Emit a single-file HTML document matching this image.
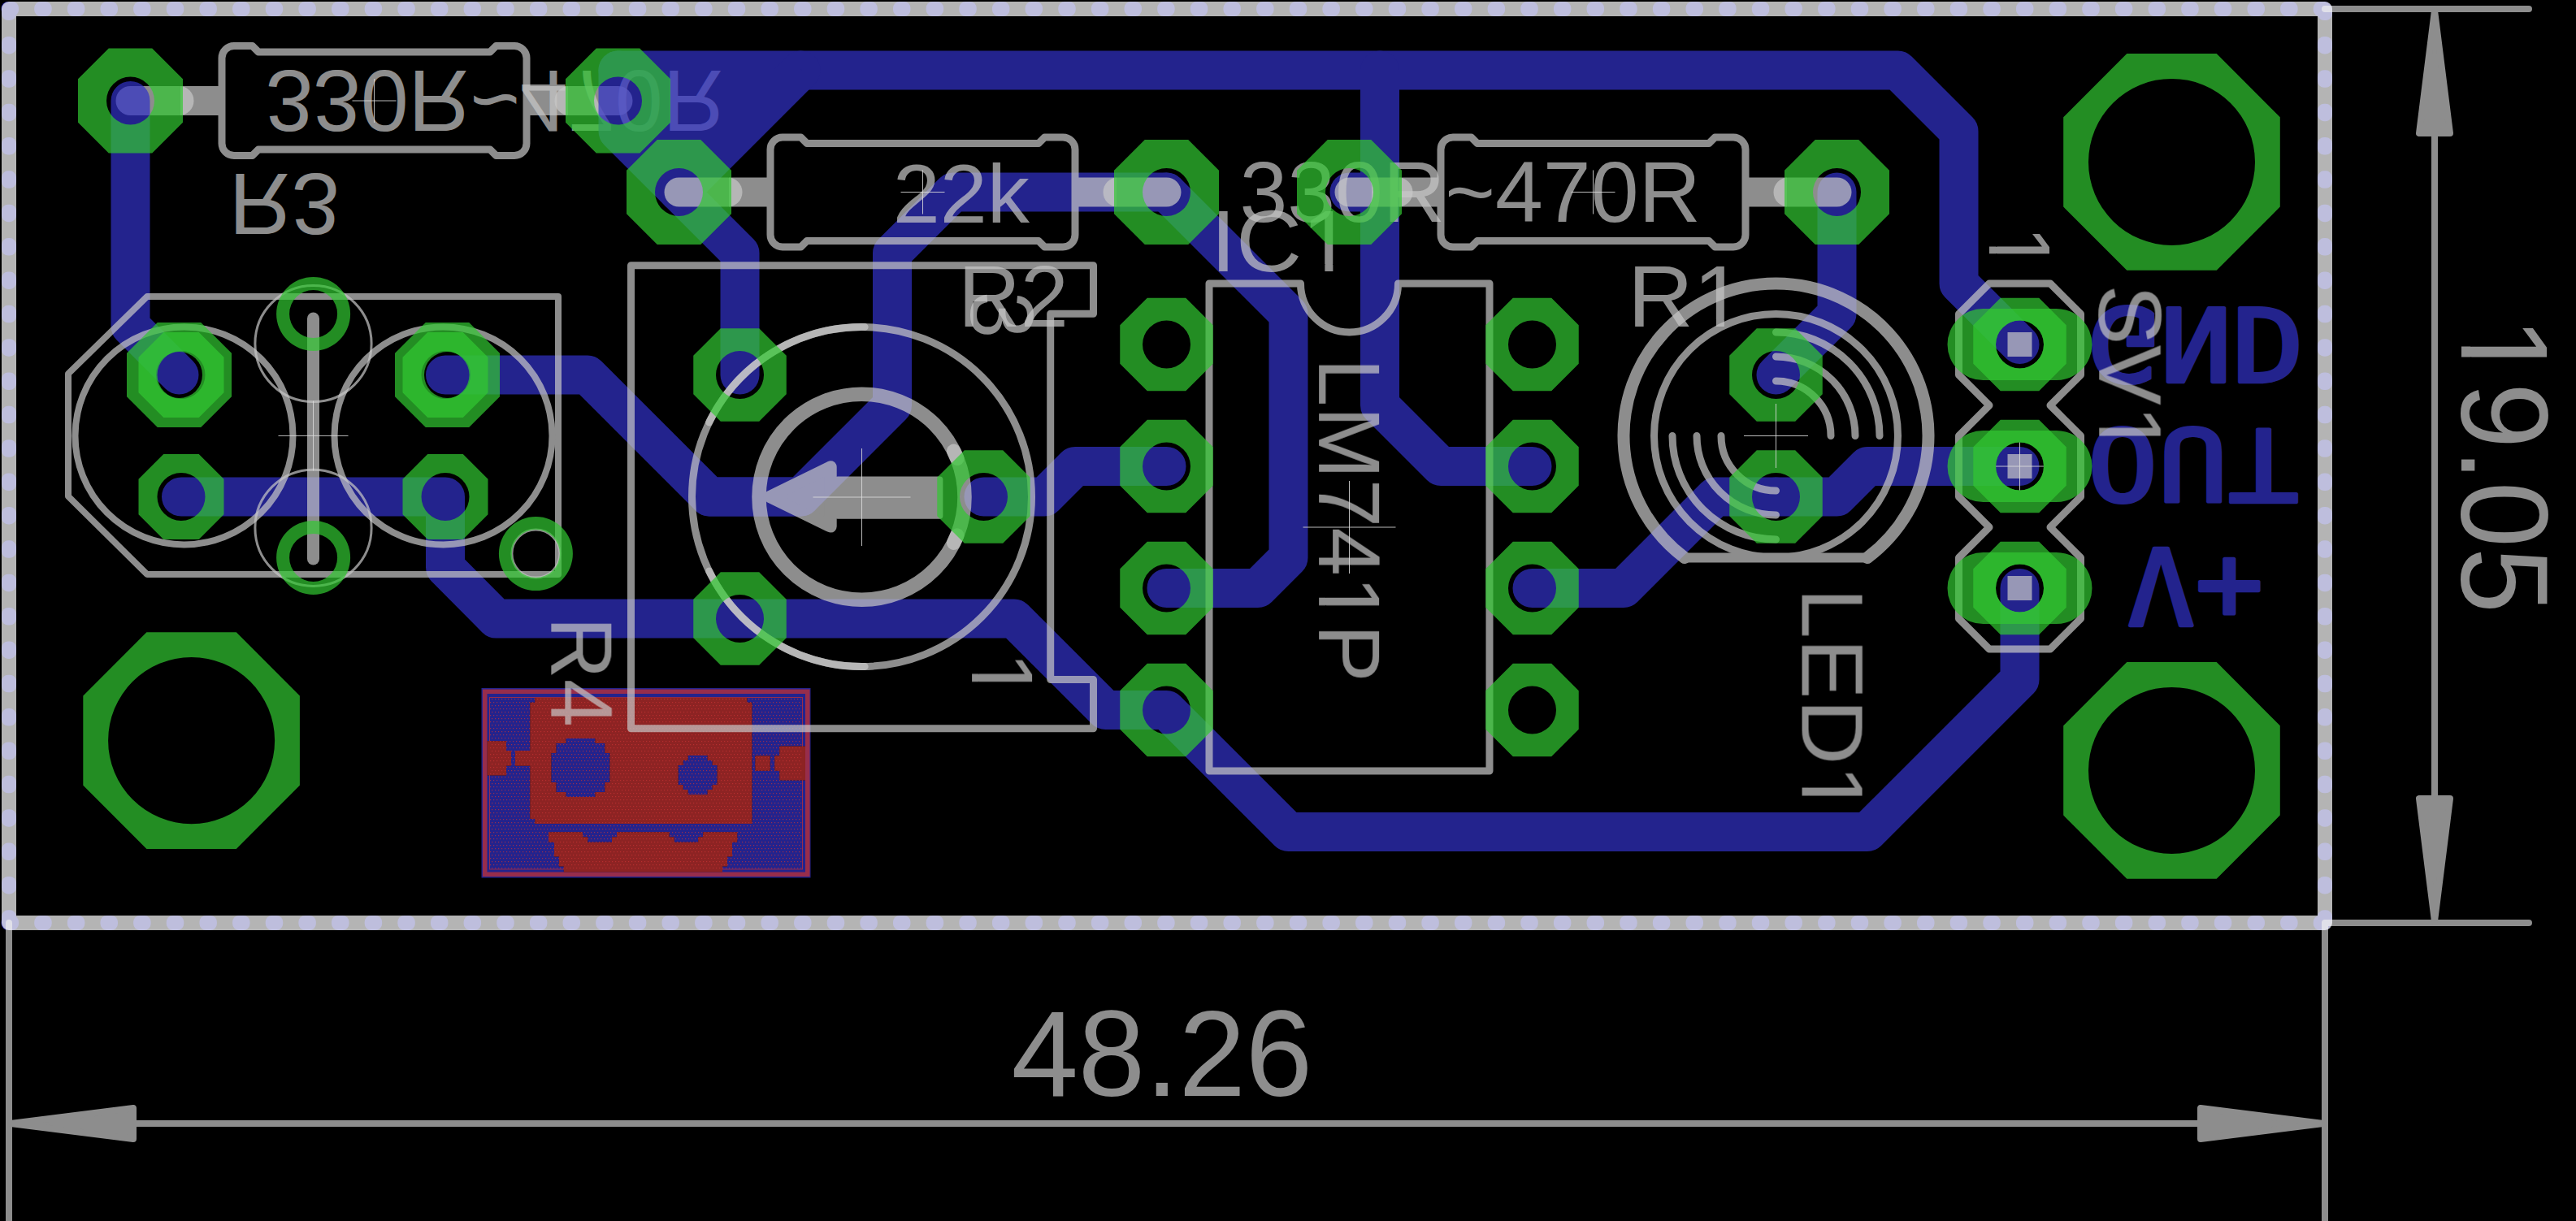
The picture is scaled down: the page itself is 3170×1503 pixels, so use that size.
<!DOCTYPE html>
<html><head><meta charset="utf-8"><title>PCB layout</title>
<style>html,body{margin:0;padding:0;background:#000}svg{display:block}</style></head>
<body>
<svg width="3170" height="1503" viewBox="0 0 3170 1503">
<defs><pattern id="stip" x="603" y="859" width="4" height="8" patternUnits="userSpaceOnUse"><rect x="2" y="1" width="1.2" height="1.2" fill="#c83232"/><rect x="0" y="5" width="1.2" height="1.2" fill="#c83232"/> </pattern><clipPath id="c0"><path clip-rule="evenodd" d="M-500,-500 H3000 V500 H-500 Z M6,-8.4 H25.1 V2 H6 Z M34,-8.4 H52 V2 H34 Z"/></clipPath><clipPath id="c1"><path clip-rule="evenodd" d="M-500,-500 H3000 V500 H-500 Z M78.2,-8.4 H97.3 V2 H78.2 Z M106.2,-8.4 H124.2 V2 H106.2 Z"/></clipPath><clipPath id="c2"><path clip-rule="evenodd" d="M-500,-500 H3000 V500 H-500 Z M106,-8.4 H125.1 V2 H106 Z M134,-8.4 H152 V2 H134 Z"/></clipPath><clipPath id="c3"><path clip-rule="evenodd" d="M-500,-500 H3000 V500 H-500 Z M256.14,-8.4 H275.24 V2 H256.14 Z M284.14,-8.4 H302.14 V2 H284.14 Z"/></clipPath><clipPath id="c4"><path clip-rule="evenodd" d="M-500,-500 H3000 V500 H-500 Z M200.53,-8.4 H219.63 V2 H200.53 Z M228.53,-8.4 H246.53 V2 H228.53 Z"/></clipPath><clipPath id="c5"><path clip-rule="evenodd" d="M-500,-500 H3000 V500 H-500 Z M139.39,-8.4 H158.49 V2 H139.39 Z M167.39,-8.4 H185.39 V2 H167.39 Z"/></clipPath><clipPath id="c6"><path clip-rule="evenodd" d="M-500,-500 H3000 V500 H-500 Z M6,-8.4 H25.1 V2 H6 Z M34,-8.4 H52 V2 H34 Z"/></clipPath><clipPath id="c7"><path clip-rule="evenodd" d="M-500,-500 H3000 V500 H-500 Z M6,-8.4 H25.1 V2 H6 Z M34,-8.4 H52 V2 H34 Z"/></clipPath></defs>
<rect width="3170" height="1503" fill="#000"/>
<g opacity="0.706" fill="#c8c8c8" stroke="#c8c8c8">
<path d="M273,71.5 A15 15 0 0 1 288,56.5 L310.5,56.5 L318,64 L603,64 L610.5,56.5 L633,56.5 A15 15 0 0 1 648,71.5 L648,176.5 A15 15 0 0 1 633,191.5 L610.5,191.5 L603,184 L318,184 L310.5,191.5 L288,191.5 A15 15 0 0 1 273,176.5 Z" fill="none" stroke-width="9" stroke-linejoin="round"/>
<rect x="222" y="106" width="51" height="36" stroke="none"/>
<rect x="648" y="106" width="51" height="36" stroke="none"/>
</g>
<g opacity="0.706" fill="#c8c8c8" stroke="#c8c8c8">
<line x1="160.5" y1="124" x2="220.5" y2="124" stroke-width="36" stroke-linecap="round"/>
<line x1="760.5" y1="124" x2="700.5" y2="124" stroke-width="36" stroke-linecap="round"/>
</g>
<g opacity="0.706" fill="#c8c8c8" stroke="#c8c8c8">
<text transform="translate(281.87,214.07) scale(1.0661,-1.0704)" font-family="&quot;Liberation Sans&quot;, sans-serif" font-weight="normal" font-size="100" stroke="none">R3</text>
</g>
<g opacity="0.706" fill="#c8c8c8" stroke="#c8c8c8">
<text transform="translate(326.79,87.07) scale(1.0531,-1.0704)" font-family="&quot;Liberation Sans&quot;, sans-serif" font-weight="normal" font-size="100" stroke="none">330R~470R</text>
</g>
<g opacity="0.706" fill="#3232c8" stroke="#3232c8">
<polyline points="160.5,124 160.5,401.5 220.5,461.5" fill="none" stroke-width="48" stroke-linecap="round" stroke-linejoin="round"/>
<polyline points="760.5,86.5 2335.5,86.5 2410.5,161.5 2410.5,349 2485.5,424" fill="none" stroke-width="48" stroke-linecap="round" stroke-linejoin="round"/>
<polyline points="760.5,86.5 760.5,161.5 835.5,236.5 910.5,311.5 910.5,461.5" fill="none" stroke-width="48" stroke-linecap="round" stroke-linejoin="round"/>
<polyline points="835.5,236.5 985.5,86.5" fill="none" stroke-width="48" stroke-linecap="round" stroke-linejoin="round"/>
<polygon points="760.5,86.5 985.5,86.5 835.5,236.5 760.5,161.5" stroke-width="3" stroke-linejoin="round"/>
<polyline points="1698,86.5 1698,499 1773,574 1885.5,574" fill="none" stroke-width="48" stroke-linecap="round" stroke-linejoin="round"/>
<polyline points="1660.5,236.5 1698,236.5" fill="none" stroke-width="48" stroke-linecap="round" stroke-linejoin="round"/>
<polyline points="1435.5,236.5 1173,236.5 1098,311.5 1098,499 985.5,611.5 873,611.5" fill="none" stroke-width="48" stroke-linecap="round" stroke-linejoin="round"/>
<polyline points="1435.5,236.5 1585.5,386.5 1585.5,686.5 1548,724 1435.5,724" fill="none" stroke-width="48" stroke-linecap="round" stroke-linejoin="round"/>
<polyline points="1210.5,611.5 1285.5,611.5 1323,574 1435.5,574" fill="none" stroke-width="48" stroke-linecap="round" stroke-linejoin="round"/>
<polyline points="548,461.5 723,461.5 873,611.5 985.5,611.5" fill="none" stroke-width="48" stroke-linecap="round" stroke-linejoin="round"/>
<polyline points="223,611.5 548,611.5 548,698.5 610.5,761.5 910.5,761.5 1248,761.5 1360.5,874 1435.5,874 1585.5,1024 2298,1024 2485.5,836.5 2485.5,724" fill="none" stroke-width="48" stroke-linecap="round" stroke-linejoin="round"/>
<polyline points="2185.5,611.5 2110.5,611.5 1998,724 1885.5,724" fill="none" stroke-width="48" stroke-linecap="round" stroke-linejoin="round"/>
<polyline points="2185.5,611.5 2260.5,611.5 2298,574 2485.5,574" fill="none" stroke-width="48" stroke-linecap="round" stroke-linejoin="round"/>
<polyline points="2260.5,236.5 2260.5,386.5 2185.5,461.5" fill="none" stroke-width="48" stroke-linecap="round" stroke-linejoin="round"/>
<rect x="1.55" y="2" width="21.5" height="18" rx="8" stroke="none"/><rect x="1.55" y="1127" width="21.5" height="18" rx="8" stroke="none"/><rect x="42.2" y="2" width="21.5" height="18" rx="8" stroke="none"/><rect x="42.2" y="1127" width="21.5" height="18" rx="8" stroke="none"/><rect x="82.84" y="2" width="21.5" height="18" rx="8" stroke="none"/><rect x="82.84" y="1127" width="21.5" height="18" rx="8" stroke="none"/><rect x="123.49" y="2" width="21.5" height="18" rx="8" stroke="none"/><rect x="123.49" y="1127" width="21.5" height="18" rx="8" stroke="none"/><rect x="164.13" y="2" width="21.5" height="18" rx="8" stroke="none"/><rect x="164.13" y="1127" width="21.5" height="18" rx="8" stroke="none"/><rect x="204.78" y="2" width="21.5" height="18" rx="8" stroke="none"/><rect x="204.78" y="1127" width="21.5" height="18" rx="8" stroke="none"/><rect x="245.43" y="2" width="21.5" height="18" rx="8" stroke="none"/><rect x="245.43" y="1127" width="21.5" height="18" rx="8" stroke="none"/><rect x="286.07" y="2" width="21.5" height="18" rx="8" stroke="none"/><rect x="286.07" y="1127" width="21.5" height="18" rx="8" stroke="none"/><rect x="326.72" y="2" width="21.5" height="18" rx="8" stroke="none"/><rect x="326.72" y="1127" width="21.5" height="18" rx="8" stroke="none"/><rect x="367.36" y="2" width="21.5" height="18" rx="8" stroke="none"/><rect x="367.36" y="1127" width="21.5" height="18" rx="8" stroke="none"/><rect x="408.01" y="2" width="21.5" height="18" rx="8" stroke="none"/><rect x="408.01" y="1127" width="21.5" height="18" rx="8" stroke="none"/><rect x="448.66" y="2" width="21.5" height="18" rx="8" stroke="none"/><rect x="448.66" y="1127" width="21.5" height="18" rx="8" stroke="none"/><rect x="489.3" y="2" width="21.5" height="18" rx="8" stroke="none"/><rect x="489.3" y="1127" width="21.5" height="18" rx="8" stroke="none"/><rect x="529.95" y="2" width="21.5" height="18" rx="8" stroke="none"/><rect x="529.95" y="1127" width="21.5" height="18" rx="8" stroke="none"/><rect x="570.59" y="2" width="21.5" height="18" rx="8" stroke="none"/><rect x="570.59" y="1127" width="21.5" height="18" rx="8" stroke="none"/><rect x="611.24" y="2" width="21.5" height="18" rx="8" stroke="none"/><rect x="611.24" y="1127" width="21.5" height="18" rx="8" stroke="none"/><rect x="651.89" y="2" width="21.5" height="18" rx="8" stroke="none"/><rect x="651.89" y="1127" width="21.5" height="18" rx="8" stroke="none"/><rect x="692.53" y="2" width="21.5" height="18" rx="8" stroke="none"/><rect x="692.53" y="1127" width="21.5" height="18" rx="8" stroke="none"/><rect x="733.18" y="2" width="21.5" height="18" rx="8" stroke="none"/><rect x="733.18" y="1127" width="21.5" height="18" rx="8" stroke="none"/><rect x="773.82" y="2" width="21.5" height="18" rx="8" stroke="none"/><rect x="773.82" y="1127" width="21.5" height="18" rx="8" stroke="none"/><rect x="814.47" y="2" width="21.5" height="18" rx="8" stroke="none"/><rect x="814.47" y="1127" width="21.5" height="18" rx="8" stroke="none"/><rect x="855.12" y="2" width="21.5" height="18" rx="8" stroke="none"/><rect x="855.12" y="1127" width="21.5" height="18" rx="8" stroke="none"/><rect x="895.76" y="2" width="21.5" height="18" rx="8" stroke="none"/><rect x="895.76" y="1127" width="21.5" height="18" rx="8" stroke="none"/><rect x="936.41" y="2" width="21.5" height="18" rx="8" stroke="none"/><rect x="936.41" y="1127" width="21.5" height="18" rx="8" stroke="none"/><rect x="977.05" y="2" width="21.5" height="18" rx="8" stroke="none"/><rect x="977.05" y="1127" width="21.5" height="18" rx="8" stroke="none"/><rect x="1017.7" y="2" width="21.5" height="18" rx="8" stroke="none"/><rect x="1017.7" y="1127" width="21.5" height="18" rx="8" stroke="none"/><rect x="1058.35" y="2" width="21.5" height="18" rx="8" stroke="none"/><rect x="1058.35" y="1127" width="21.5" height="18" rx="8" stroke="none"/><rect x="1098.99" y="2" width="21.5" height="18" rx="8" stroke="none"/><rect x="1098.99" y="1127" width="21.5" height="18" rx="8" stroke="none"/><rect x="1139.64" y="2" width="21.5" height="18" rx="8" stroke="none"/><rect x="1139.64" y="1127" width="21.5" height="18" rx="8" stroke="none"/><rect x="1180.28" y="2" width="21.5" height="18" rx="8" stroke="none"/><rect x="1180.28" y="1127" width="21.5" height="18" rx="8" stroke="none"/><rect x="1220.93" y="2" width="21.5" height="18" rx="8" stroke="none"/><rect x="1220.93" y="1127" width="21.5" height="18" rx="8" stroke="none"/><rect x="1261.58" y="2" width="21.5" height="18" rx="8" stroke="none"/><rect x="1261.58" y="1127" width="21.5" height="18" rx="8" stroke="none"/><rect x="1302.22" y="2" width="21.5" height="18" rx="8" stroke="none"/><rect x="1302.22" y="1127" width="21.5" height="18" rx="8" stroke="none"/><rect x="1342.87" y="2" width="21.5" height="18" rx="8" stroke="none"/><rect x="1342.87" y="1127" width="21.5" height="18" rx="8" stroke="none"/><rect x="1383.51" y="2" width="21.5" height="18" rx="8" stroke="none"/><rect x="1383.51" y="1127" width="21.5" height="18" rx="8" stroke="none"/><rect x="1424.16" y="2" width="21.5" height="18" rx="8" stroke="none"/><rect x="1424.16" y="1127" width="21.5" height="18" rx="8" stroke="none"/><rect x="1464.81" y="2" width="21.5" height="18" rx="8" stroke="none"/><rect x="1464.81" y="1127" width="21.5" height="18" rx="8" stroke="none"/><rect x="1505.45" y="2" width="21.5" height="18" rx="8" stroke="none"/><rect x="1505.45" y="1127" width="21.5" height="18" rx="8" stroke="none"/><rect x="1546.1" y="2" width="21.5" height="18" rx="8" stroke="none"/><rect x="1546.1" y="1127" width="21.5" height="18" rx="8" stroke="none"/><rect x="1586.74" y="2" width="21.5" height="18" rx="8" stroke="none"/><rect x="1586.74" y="1127" width="21.5" height="18" rx="8" stroke="none"/><rect x="1627.39" y="2" width="21.5" height="18" rx="8" stroke="none"/><rect x="1627.39" y="1127" width="21.5" height="18" rx="8" stroke="none"/><rect x="1668.04" y="2" width="21.5" height="18" rx="8" stroke="none"/><rect x="1668.04" y="1127" width="21.5" height="18" rx="8" stroke="none"/><rect x="1708.68" y="2" width="21.5" height="18" rx="8" stroke="none"/><rect x="1708.68" y="1127" width="21.5" height="18" rx="8" stroke="none"/><rect x="1749.33" y="2" width="21.5" height="18" rx="8" stroke="none"/><rect x="1749.33" y="1127" width="21.5" height="18" rx="8" stroke="none"/><rect x="1789.97" y="2" width="21.5" height="18" rx="8" stroke="none"/><rect x="1789.97" y="1127" width="21.5" height="18" rx="8" stroke="none"/><rect x="1830.62" y="2" width="21.5" height="18" rx="8" stroke="none"/><rect x="1830.62" y="1127" width="21.5" height="18" rx="8" stroke="none"/><rect x="1871.27" y="2" width="21.5" height="18" rx="8" stroke="none"/><rect x="1871.27" y="1127" width="21.5" height="18" rx="8" stroke="none"/><rect x="1911.91" y="2" width="21.5" height="18" rx="8" stroke="none"/><rect x="1911.91" y="1127" width="21.5" height="18" rx="8" stroke="none"/><rect x="1952.56" y="2" width="21.5" height="18" rx="8" stroke="none"/><rect x="1952.56" y="1127" width="21.5" height="18" rx="8" stroke="none"/><rect x="1993.2" y="2" width="21.5" height="18" rx="8" stroke="none"/><rect x="1993.2" y="1127" width="21.5" height="18" rx="8" stroke="none"/><rect x="2033.85" y="2" width="21.5" height="18" rx="8" stroke="none"/><rect x="2033.85" y="1127" width="21.5" height="18" rx="8" stroke="none"/><rect x="2074.5" y="2" width="21.5" height="18" rx="8" stroke="none"/><rect x="2074.5" y="1127" width="21.5" height="18" rx="8" stroke="none"/><rect x="2115.14" y="2" width="21.5" height="18" rx="8" stroke="none"/><rect x="2115.14" y="1127" width="21.5" height="18" rx="8" stroke="none"/><rect x="2155.79" y="2" width="21.5" height="18" rx="8" stroke="none"/><rect x="2155.79" y="1127" width="21.5" height="18" rx="8" stroke="none"/><rect x="2196.43" y="2" width="21.5" height="18" rx="8" stroke="none"/><rect x="2196.43" y="1127" width="21.5" height="18" rx="8" stroke="none"/><rect x="2237.08" y="2" width="21.5" height="18" rx="8" stroke="none"/><rect x="2237.08" y="1127" width="21.5" height="18" rx="8" stroke="none"/><rect x="2277.73" y="2" width="21.5" height="18" rx="8" stroke="none"/><rect x="2277.73" y="1127" width="21.5" height="18" rx="8" stroke="none"/><rect x="2318.37" y="2" width="21.5" height="18" rx="8" stroke="none"/><rect x="2318.37" y="1127" width="21.5" height="18" rx="8" stroke="none"/><rect x="2359.02" y="2" width="21.5" height="18" rx="8" stroke="none"/><rect x="2359.02" y="1127" width="21.5" height="18" rx="8" stroke="none"/><rect x="2399.66" y="2" width="21.5" height="18" rx="8" stroke="none"/><rect x="2399.66" y="1127" width="21.5" height="18" rx="8" stroke="none"/><rect x="2440.31" y="2" width="21.5" height="18" rx="8" stroke="none"/><rect x="2440.31" y="1127" width="21.5" height="18" rx="8" stroke="none"/><rect x="2480.96" y="2" width="21.5" height="18" rx="8" stroke="none"/><rect x="2480.96" y="1127" width="21.5" height="18" rx="8" stroke="none"/><rect x="2521.6" y="2" width="21.5" height="18" rx="8" stroke="none"/><rect x="2521.6" y="1127" width="21.5" height="18" rx="8" stroke="none"/><rect x="2562.25" y="2" width="21.5" height="18" rx="8" stroke="none"/><rect x="2562.25" y="1127" width="21.5" height="18" rx="8" stroke="none"/><rect x="2602.89" y="2" width="21.5" height="18" rx="8" stroke="none"/><rect x="2602.89" y="1127" width="21.5" height="18" rx="8" stroke="none"/><rect x="2643.54" y="2" width="21.5" height="18" rx="8" stroke="none"/><rect x="2643.54" y="1127" width="21.5" height="18" rx="8" stroke="none"/><rect x="2684.19" y="2" width="21.5" height="18" rx="8" stroke="none"/><rect x="2684.19" y="1127" width="21.5" height="18" rx="8" stroke="none"/><rect x="2724.83" y="2" width="21.5" height="18" rx="8" stroke="none"/><rect x="2724.83" y="1127" width="21.5" height="18" rx="8" stroke="none"/><rect x="2765.48" y="2" width="21.5" height="18" rx="8" stroke="none"/><rect x="2765.48" y="1127" width="21.5" height="18" rx="8" stroke="none"/><rect x="2806.12" y="2" width="21.5" height="18" rx="8" stroke="none"/><rect x="2806.12" y="1127" width="21.5" height="18" rx="8" stroke="none"/><rect x="2846.77" y="2" width="21.5" height="18" rx="8" stroke="none"/><rect x="2846.77" y="1127" width="21.5" height="18" rx="8" stroke="none"/><rect x="2" y="3.55" width="18" height="21.5" rx="8" stroke="none"/><rect x="2852" y="3.55" width="18" height="21.5" rx="8" stroke="none"/><rect x="2" y="44.91" width="18" height="21.5" rx="8" stroke="none"/><rect x="2852" y="44.91" width="18" height="21.5" rx="8" stroke="none"/><rect x="2" y="86.27" width="18" height="21.5" rx="8" stroke="none"/><rect x="2852" y="86.27" width="18" height="21.5" rx="8" stroke="none"/><rect x="2" y="127.63" width="18" height="21.5" rx="8" stroke="none"/><rect x="2852" y="127.63" width="18" height="21.5" rx="8" stroke="none"/><rect x="2" y="168.99" width="18" height="21.5" rx="8" stroke="none"/><rect x="2852" y="168.99" width="18" height="21.5" rx="8" stroke="none"/><rect x="2" y="210.35" width="18" height="21.5" rx="8" stroke="none"/><rect x="2852" y="210.35" width="18" height="21.5" rx="8" stroke="none"/><rect x="2" y="251.71" width="18" height="21.5" rx="8" stroke="none"/><rect x="2852" y="251.71" width="18" height="21.5" rx="8" stroke="none"/><rect x="2" y="293.07" width="18" height="21.5" rx="8" stroke="none"/><rect x="2852" y="293.07" width="18" height="21.5" rx="8" stroke="none"/><rect x="2" y="334.43" width="18" height="21.5" rx="8" stroke="none"/><rect x="2852" y="334.43" width="18" height="21.5" rx="8" stroke="none"/><rect x="2" y="375.79" width="18" height="21.5" rx="8" stroke="none"/><rect x="2852" y="375.79" width="18" height="21.5" rx="8" stroke="none"/><rect x="2" y="417.15" width="18" height="21.5" rx="8" stroke="none"/><rect x="2852" y="417.15" width="18" height="21.5" rx="8" stroke="none"/><rect x="2" y="458.51" width="18" height="21.5" rx="8" stroke="none"/><rect x="2852" y="458.51" width="18" height="21.5" rx="8" stroke="none"/><rect x="2" y="499.87" width="18" height="21.5" rx="8" stroke="none"/><rect x="2852" y="499.87" width="18" height="21.5" rx="8" stroke="none"/><rect x="2" y="541.23" width="18" height="21.5" rx="8" stroke="none"/><rect x="2852" y="541.23" width="18" height="21.5" rx="8" stroke="none"/><rect x="2" y="582.59" width="18" height="21.5" rx="8" stroke="none"/><rect x="2852" y="582.59" width="18" height="21.5" rx="8" stroke="none"/><rect x="2" y="623.95" width="18" height="21.5" rx="8" stroke="none"/><rect x="2852" y="623.95" width="18" height="21.5" rx="8" stroke="none"/><rect x="2" y="665.31" width="18" height="21.5" rx="8" stroke="none"/><rect x="2852" y="665.31" width="18" height="21.5" rx="8" stroke="none"/><rect x="2" y="706.67" width="18" height="21.5" rx="8" stroke="none"/><rect x="2852" y="706.67" width="18" height="21.5" rx="8" stroke="none"/><rect x="2" y="748.03" width="18" height="21.5" rx="8" stroke="none"/><rect x="2852" y="748.03" width="18" height="21.5" rx="8" stroke="none"/><rect x="2" y="789.39" width="18" height="21.5" rx="8" stroke="none"/><rect x="2852" y="789.39" width="18" height="21.5" rx="8" stroke="none"/><rect x="2" y="830.75" width="18" height="21.5" rx="8" stroke="none"/><rect x="2852" y="830.75" width="18" height="21.5" rx="8" stroke="none"/><rect x="2" y="872.11" width="18" height="21.5" rx="8" stroke="none"/><rect x="2852" y="872.11" width="18" height="21.5" rx="8" stroke="none"/><rect x="2" y="913.47" width="18" height="21.5" rx="8" stroke="none"/><rect x="2852" y="913.47" width="18" height="21.5" rx="8" stroke="none"/><rect x="2" y="954.83" width="18" height="21.5" rx="8" stroke="none"/><rect x="2852" y="954.83" width="18" height="21.5" rx="8" stroke="none"/><rect x="2" y="996.19" width="18" height="21.5" rx="8" stroke="none"/><rect x="2852" y="996.19" width="18" height="21.5" rx="8" stroke="none"/><rect x="2" y="1037.55" width="18" height="21.5" rx="8" stroke="none"/><rect x="2852" y="1037.55" width="18" height="21.5" rx="8" stroke="none"/><rect x="2" y="1078.91" width="18" height="21.5" rx="8" stroke="none"/><rect x="2852" y="1078.91" width="18" height="21.5" rx="8" stroke="none"/><rect x="2" y="1120.27" width="18" height="21.5" rx="8" stroke="none"/><rect x="2852" y="1120.27" width="18" height="21.5" rx="8" stroke="none"/>
<path fill-rule="evenodd" stroke="none" d="M592.5,847 H997.5 V1080.5 H592.5 Z M652.3,864.7 H658.3 V858.7 H919.4 V864.7 H925.4 V1014 H658.3 V1008 H652.3 Z M696.4,909 V915 H732.4 V909 Z M684.4,915 V921 H744.4 V915 Z M684.4,921 V927 H744.4 V921 Z M678.4,927 V933 H750.4 V927 Z M678.4,933 V939 H750.4 V933 Z M678.4,939 V945 H750.4 V939 Z M678.4,945 V951 H750.4 V945 Z M678.4,951 V957 H750.4 V951 Z M678.4,957 V963 H750.4 V957 Z M684.4,963 V969 H744.4 V963 Z M684.4,969 V975 H744.4 V969 Z M696.4,975 V981 H732.4 V975 Z M846.6,930 V936 H870.6 V930 Z M840.6,936 V942 H876.6 V936 Z M834.6,942 V948 H882.6 V942 Z M834.6,948 V954 H882.6 V948 Z M834.6,954 V960 H882.6 V954 Z M834.6,960 V966 H882.6 V960 Z M840.6,966 V972 H876.6 V966 Z M846.6,972 V978 H870.6 V972 Z M599.5,912.3 V954.5 H623 V912.3 Z M623,924 V942.8 H629 V924 Z M634,924 V942.8 H652.3 V924 Z M929.4,930.2 V948.8 H947.7 V930.2 Z M953.2,930.2 V948.8 H959.2 V930.2 Z M959.2,918.5 V960.5 H991 V918.5 Z M675,1024.2 H717 V1030.2 H723.2 V1036.8 H753 V1030.2 H759 V1024.2 H823.6 V1030.2 H829.8 V1036.8 H859.2 V1030.2 H865.2 V1024.2 H907.2 V1036.8 H901 V1054.5 H895 V1066.6 H889 V1073.5 H693.8 V1066.6 H687.9 V1054.5 H682 V1036.8 H675 Z"/>
<text transform="translate(2569.58,378.75) scale(1.4717,-1.2500)" font-family="&quot;DejaVu Sans Mono&quot;, monospace" font-weight="normal" font-size="100" stroke-width="3.4" stroke-linejoin="round" stroke-linecap="round">GND</text>
<text transform="translate(2568.64,527.69) scale(1.4409,-1.2300)" font-family="&quot;DejaVu Sans Mono&quot;, monospace" font-weight="normal" font-size="100" stroke-width="3.4" stroke-linejoin="round" stroke-linecap="round">OUT</text>
<text transform="translate(2617.61,674.79) scale(1.3932,-1.2961)" font-family="&quot;DejaVu Sans Mono&quot;, monospace" font-weight="normal" font-size="100" stroke-width="3.4" stroke-linejoin="round" stroke-linecap="round" dy="0 -4.9">V+</text>
</g>
<g opacity="0.706" fill="#c83232" stroke="#c83232">
<path fill-rule="evenodd" stroke="none" d="M594,848.5 H996.5 V1079 H594 Z M599.5,854 V1073.5 H991 V854 Z"/>
<rect x="602.5" y="858.5" width="385" height="211.5" fill="none" stroke-width="1"/>
<path fill-rule="evenodd" stroke="none" d="M652.3,864.7 H658.3 V858.7 H919.4 V864.7 H925.4 V1014 H658.3 V1008 H652.3 Z M696.4,909 V915 H732.4 V909 Z M684.4,915 V921 H744.4 V915 Z M684.4,921 V927 H744.4 V921 Z M678.4,927 V933 H750.4 V927 Z M678.4,933 V939 H750.4 V933 Z M678.4,939 V945 H750.4 V939 Z M678.4,945 V951 H750.4 V945 Z M678.4,951 V957 H750.4 V951 Z M678.4,957 V963 H750.4 V957 Z M684.4,963 V969 H744.4 V963 Z M684.4,969 V975 H744.4 V969 Z M696.4,975 V981 H732.4 V975 Z M846.6,930 V936 H870.6 V930 Z M840.6,936 V942 H876.6 V936 Z M834.6,942 V948 H882.6 V942 Z M834.6,948 V954 H882.6 V948 Z M834.6,954 V960 H882.6 V954 Z M834.6,960 V966 H882.6 V960 Z M840.6,966 V972 H876.6 V966 Z M846.6,972 V978 H870.6 V972 Z M599.5,912.3 V954.5 H623 V912.3 Z M623,924 V942.8 H629 V924 Z M634,924 V942.8 H652.3 V924 Z M929.4,930.2 V948.8 H947.7 V930.2 Z M953.2,930.2 V948.8 H959.2 V930.2 Z M959.2,918.5 V960.5 H991 V918.5 Z M675,1024.2 H717 V1030.2 H723.2 V1036.8 H753 V1030.2 H759 V1024.2 H823.6 V1030.2 H829.8 V1036.8 H859.2 V1030.2 H865.2 V1024.2 H907.2 V1036.8 H901 V1054.5 H895 V1066.6 H889 V1073.5 H693.8 V1066.6 H687.9 V1054.5 H682 V1036.8 H675 Z"/>
</g>
<g opacity="0.706" fill="#c83232" stroke="#c83232">
<rect x="603" y="859" width="384" height="210.5" fill="url(#stip)" stroke="none"/>
</g>
<g opacity="0.706" fill="#c8c8c8" stroke="#c8c8c8">
<path d="M948,184 A15 15 0 0 1 963,169 L985.5,169 L993,176.5 L1278,176.5 L1285.5,169 L1308,169 A15 15 0 0 1 1323,184 L1323,289 A15 15 0 0 1 1308,304 L1285.5,304 L1278,296.5 L993,296.5 L985.5,304 L963,304 A15 15 0 0 1 948,289 Z" fill="none" stroke-width="9" stroke-linejoin="round"/>
<rect x="897" y="218.5" width="51" height="36" stroke="none"/>
<rect x="1323" y="218.5" width="51" height="36" stroke="none"/>
<path d="M1773,184 A15 15 0 0 1 1788,169 L1810.5,169 L1818,176.5 L2103,176.5 L2110.5,169 L2133,169 A15 15 0 0 1 2148,184 L2148,289 A15 15 0 0 1 2133,304 L2110.5,304 L2103,296.5 L1818,296.5 L1810.5,304 L1788,304 A15 15 0 0 1 1773,289 Z" fill="none" stroke-width="9" stroke-linejoin="round"/>
<rect x="1722" y="218.5" width="51" height="36" stroke="none"/>
<rect x="2148" y="218.5" width="51" height="36" stroke="none"/>
<path d="M1600.5,349 L1488,349 L1488,949 L1833,949 L1833,349 L1720.5,349 A60 60 0 0 1 1600.5,349 Z" fill="none" stroke-width="9" stroke-linejoin="round"/>
<circle cx="2185.5" cy="536.5" r="150" fill="none" stroke-width="9"/>
<path d="M2073,686.5 A187.5 187.5 0 1 1 2298,686.5" fill="none" stroke-width="15" stroke-linecap="round"/>
<line x1="2073" y1="686.5" x2="2298" y2="686.5" stroke-width="12" stroke-linecap="round"/>
<polygon points="2448,349 2410.5,386.5 2410.5,461.5 2448,499 2410.5,536.5 2410.5,611.5 2448,649 2410.5,686.5 2410.5,761.5 2448,799 2523,799 2560.5,761.5 2560.5,686.5 2523,649 2560.5,611.5 2560.5,536.5 2523,499 2560.5,461.5 2560.5,386.5 2523,349" fill="none" stroke-width="9" stroke-linejoin="round"/>
<polygon points="776.5,326.7 1345.5,326.7 1345.5,386.3 1292.7,386.3 1292.7,836.5 1345.5,836.5 1345.5,896.8 776.5,896.8" fill="none" stroke-width="9" stroke-linejoin="round"/>
<path d="M1064.15,402.53 A209 209 0 0 0 872.65,519.88" fill="none" stroke-width="9" stroke-linecap="round"/>
<path d="M872.65,703.12 A209 209 0 0 0 1064.15,820.47" fill="none" stroke-width="9" stroke-linecap="round"/>
<circle cx="1060.5" cy="611.7" r="126.5" fill="none" stroke-width="17.5"/>
<rect x="1027" y="586.5" width="133.4" height="52.2" rx="4" stroke="none"/>
<polygon points="947.3,611.4 1022.2,574.7 1022.2,648.1" stroke-width="15" stroke-linejoin="round"/>
<polygon points="181,365 687,365 687,707 181,707 84,611 84,460" fill="none" stroke-width="8" stroke-linejoin="round"/>
<circle cx="226.5" cy="536.4" r="134" fill="none" stroke-width="8"/>
<circle cx="545.5" cy="536.4" r="134" fill="none" stroke-width="8"/>
<line x1="385.5" y1="392" x2="385.5" y2="688" stroke-width="15" stroke-linecap="round"/>
<text transform="translate(2448.4,278.3) rotate(90) scale(1.0000,1.0826)" font-family="&quot;Liberation Sans&quot;, sans-serif" font-weight="normal" font-size="100" stroke="none" clip-path="url(#c7)">1</text>
</g>
<g opacity="0.706" fill="#c8c8c8" stroke="#c8c8c8">
<line x1="835.5" y1="236.5" x2="895.5" y2="236.5" stroke-width="36" stroke-linecap="round"/>
<line x1="1435.5" y1="236.5" x2="1375.5" y2="236.5" stroke-width="36" stroke-linecap="round"/>
<line x1="1660.5" y1="236.5" x2="1720.5" y2="236.5" stroke-width="36" stroke-linecap="round"/>
<line x1="2260.5" y1="236.5" x2="2200.5" y2="236.5" stroke-width="36" stroke-linecap="round"/>
<path d="M2185.5,469 A67.5 67.5 0 0 1 2253,536.5" fill="none" stroke-width="9" stroke-linecap="round"/>
<path d="M2185.5,604 A67.5 67.5 0 0 1 2118,536.5" fill="none" stroke-width="9" stroke-linecap="round"/>
<path d="M2185.5,439 A97.5 97.5 0 0 1 2283,536.5" fill="none" stroke-width="9" stroke-linecap="round"/>
<path d="M2185.5,634 A97.5 97.5 0 0 1 2088,536.5" fill="none" stroke-width="9" stroke-linecap="round"/>
<path d="M2185.5,409 A127.5 127.5 0 0 1 2313,536.5" fill="none" stroke-width="9" stroke-linecap="round"/>
<path d="M2185.5,664 A127.5 127.5 0 0 1 2058,536.5" fill="none" stroke-width="9" stroke-linecap="round"/>
<rect x="2470.5" y="409" width="30" height="30" stroke="none"/>
<rect x="2470.5" y="559" width="30" height="30" stroke="none"/>
<rect x="2470.5" y="709" width="30" height="30" stroke="none"/>
<circle cx="1060.5" cy="611.5" r="209" fill="none" stroke-width="9"/>
<path d="M1177.79,564.31 A126.5 126.5 0 0 0 1173.71,555.26" fill="none" stroke-width="17.5" stroke-linecap="round"/>
<path d="M1173.71,668.14 A126.5 126.5 0 0 0 1177.79,659.09" fill="none" stroke-width="17.5" stroke-linecap="round"/>
<circle cx="385.5" cy="423" r="71.6" fill="none" stroke-width="3"/>
<circle cx="385.5" cy="649.8" r="71.6" fill="none" stroke-width="3"/>
<circle cx="659.4" cy="681.6" r="29.5" fill="none" stroke-width="3"/>
<text transform="translate(1194.69,358.86) rotate(90) scale(1.0362,1.0901)" font-family="&quot;Liberation Sans&quot;, sans-serif" font-weight="normal" font-size="100" stroke="none">3</text>
<text transform="translate(1196,802.33) rotate(90) scale(1.0837,1.0725)" font-family="&quot;Liberation Sans&quot;, sans-serif" font-weight="normal" font-size="100" stroke="none" clip-path="url(#c6)">1</text>
</g>
<g opacity="0.706" fill="#c8c8c8" stroke="#c8c8c8">
<text transform="translate(1178.99,402.3) scale(1.0635,1.0700)" font-family="&quot;Liberation Sans&quot;, sans-serif" font-weight="normal" font-size="100" stroke="none">R2</text>
<text transform="translate(2003.05,402) scale(1.1190,1.0800)" font-family="&quot;Liberation Sans&quot;, sans-serif" font-weight="normal" font-size="100" stroke="none" clip-path="url(#c1)">R1</text>
<text transform="translate(1489.68,333.93) scale(1.1245,1.0704)" font-family="&quot;Liberation Sans&quot;, sans-serif" font-weight="normal" font-size="100" stroke="none" clip-path="url(#c2)">IC1</text>
<text transform="translate(2217.4,723.64) rotate(90) scale(1.1194,1.0725)" font-family="&quot;Liberation Sans&quot;, sans-serif" font-weight="normal" font-size="100" stroke="none" clip-path="url(#c4)">LED1</text>
<text transform="translate(2583.09,350.44) rotate(90) scale(1.1121,1.0915)" font-family="&quot;Liberation Sans&quot;, sans-serif" font-weight="normal" font-size="100" stroke="none" clip-path="url(#c5)">SV1</text>
<text transform="translate(678,759.09) rotate(90) scale(1.0632,1.0757)" font-family="&quot;Liberation Sans&quot;, sans-serif" font-weight="normal" font-size="100" stroke="none">R4</text>
</g>
<g opacity="0.706" fill="#c8c8c8" stroke="#c8c8c8">
<text transform="translate(1098.78,274) scale(1.0436,1.0274)" font-family="&quot;Liberation Sans&quot;, sans-serif" font-weight="normal" font-size="100" stroke="none">22k</text>
<text transform="translate(1525.47,272.94) scale(1.0575,1.0563)" font-family="&quot;Liberation Sans&quot;, sans-serif" font-weight="normal" font-size="100" stroke="none">330R~470R</text>
<text transform="translate(1623,440.83) rotate(90) scale(1.0713,1.0829)" font-family="&quot;Liberation Sans&quot;, sans-serif" font-weight="normal" font-size="100" stroke="none" clip-path="url(#c3)">LM741P</text>
</g>
<g fill="#32c832" fill-opacity="0.706" stroke="none">
<path fill-rule="evenodd" d="M133.78,59.5 L187.22,59.5 L225,97.28 L225,150.72 L187.22,188.5 L133.78,188.5 L96,150.72 L96,97.28 Z M131,124 a29.5,29.5 0 1 0 59,0 a29.5,29.5 0 1 0 -59,0 Z"/>
<path fill-rule="evenodd" d="M733.78,59.5 L787.22,59.5 L825,97.28 L825,150.72 L787.22,188.5 L733.78,188.5 L696,150.72 L696,97.28 Z M731,124 a29.5,29.5 0 1 0 59,0 a29.5,29.5 0 1 0 -59,0 Z"/>
<path fill-rule="evenodd" d="M808.78,172 L862.22,172 L900,209.78 L900,263.22 L862.22,301 L808.78,301 L771,263.22 L771,209.78 Z M806,236.5 a29.5,29.5 0 1 0 59,0 a29.5,29.5 0 1 0 -59,0 Z"/>
<path fill-rule="evenodd" d="M1408.78,172 L1462.22,172 L1500,209.78 L1500,263.22 L1462.22,301 L1408.78,301 L1371,263.22 L1371,209.78 Z M1406,236.5 a29.5,29.5 0 1 0 59,0 a29.5,29.5 0 1 0 -59,0 Z"/>
<path fill-rule="evenodd" d="M1633.78,172 L1687.22,172 L1725,209.78 L1725,263.22 L1687.22,301 L1633.78,301 L1596,263.22 L1596,209.78 Z M1631,236.5 a29.5,29.5 0 1 0 59,0 a29.5,29.5 0 1 0 -59,0 Z"/>
<path fill-rule="evenodd" d="M2233.78,172 L2287.22,172 L2325,209.78 L2325,263.22 L2287.22,301 L2233.78,301 L2196,263.22 L2196,209.78 Z M2231,236.5 a29.5,29.5 0 1 0 59,0 a29.5,29.5 0 1 0 -59,0 Z"/>
<path fill-rule="evenodd" d="M193.78,397 L247.22,397 L285,434.78 L285,488.22 L247.22,526 L193.78,526 L156,488.22 L156,434.78 Z M192,461.5 a28.5,28.5 0 1 0 57,0 a28.5,28.5 0 1 0 -57,0 Z"/>
<path fill-rule="evenodd" d="M523.78,397 L577.22,397 L615,434.78 L615,488.22 L577.22,526 L523.78,526 L486,488.22 L486,434.78 Z M522,461.5 a28.5,28.5 0 1 0 57,0 a28.5,28.5 0 1 0 -57,0 Z"/>
<path fill-rule="evenodd" d="M201.25,409 L244.75,409 L275.5,439.75 L275.5,483.25 L244.75,514 L201.25,514 L170.5,483.25 L170.5,439.75 Z M193.5,461.5 a29.5,29.5 0 1 0 59,0 a29.5,29.5 0 1 0 -59,0 Z"/>
<path fill-rule="evenodd" d="M526.25,409 L569.75,409 L600.5,439.75 L600.5,483.25 L569.75,514 L526.25,514 L495.5,483.25 L495.5,439.75 Z M518.5,461.5 a29.5,29.5 0 1 0 59,0 a29.5,29.5 0 1 0 -59,0 Z"/>
<path fill-rule="evenodd" d="M201.25,559 L244.75,559 L275.5,589.75 L275.5,633.25 L244.75,664 L201.25,664 L170.5,633.25 L170.5,589.75 Z M193.5,611.5 a29.5,29.5 0 1 0 59,0 a29.5,29.5 0 1 0 -59,0 Z"/>
<path fill-rule="evenodd" d="M526.25,559 L569.75,559 L600.5,589.75 L600.5,633.25 L569.75,664 L526.25,664 L495.5,633.25 L495.5,589.75 Z M518.5,611.5 a29.5,29.5 0 1 0 59,0 a29.5,29.5 0 1 0 -59,0 Z"/>
<path fill-rule="evenodd" d="M1411.79,366.75 L1459.21,366.75 L1492.75,400.29 L1492.75,447.71 L1459.21,481.25 L1411.79,481.25 L1378.25,447.71 L1378.25,400.29 Z M1406,424 a29.5,29.5 0 1 0 59,0 a29.5,29.5 0 1 0 -59,0 Z"/>
<path fill-rule="evenodd" d="M1861.79,366.75 L1909.21,366.75 L1942.75,400.29 L1942.75,447.71 L1909.21,481.25 L1861.79,481.25 L1828.25,447.71 L1828.25,400.29 Z M1856,424 a29.5,29.5 0 1 0 59,0 a29.5,29.5 0 1 0 -59,0 Z"/>
<path fill-rule="evenodd" d="M1411.79,516.75 L1459.21,516.75 L1492.75,550.29 L1492.75,597.71 L1459.21,631.25 L1411.79,631.25 L1378.25,597.71 L1378.25,550.29 Z M1406,574 a29.5,29.5 0 1 0 59,0 a29.5,29.5 0 1 0 -59,0 Z"/>
<path fill-rule="evenodd" d="M1861.79,516.75 L1909.21,516.75 L1942.75,550.29 L1942.75,597.71 L1909.21,631.25 L1861.79,631.25 L1828.25,597.71 L1828.25,550.29 Z M1856,574 a29.5,29.5 0 1 0 59,0 a29.5,29.5 0 1 0 -59,0 Z"/>
<path fill-rule="evenodd" d="M1411.79,666.75 L1459.21,666.75 L1492.75,700.29 L1492.75,747.71 L1459.21,781.25 L1411.79,781.25 L1378.25,747.71 L1378.25,700.29 Z M1406,724 a29.5,29.5 0 1 0 59,0 a29.5,29.5 0 1 0 -59,0 Z"/>
<path fill-rule="evenodd" d="M1861.79,666.75 L1909.21,666.75 L1942.75,700.29 L1942.75,747.71 L1909.21,781.25 L1861.79,781.25 L1828.25,747.71 L1828.25,700.29 Z M1856,724 a29.5,29.5 0 1 0 59,0 a29.5,29.5 0 1 0 -59,0 Z"/>
<path fill-rule="evenodd" d="M1411.79,816.75 L1459.21,816.75 L1492.75,850.29 L1492.75,897.71 L1459.21,931.25 L1411.79,931.25 L1378.25,897.71 L1378.25,850.29 Z M1406,874 a29.5,29.5 0 1 0 59,0 a29.5,29.5 0 1 0 -59,0 Z"/>
<path fill-rule="evenodd" d="M1861.79,816.75 L1909.21,816.75 L1942.75,850.29 L1942.75,897.71 L1909.21,931.25 L1861.79,931.25 L1828.25,897.71 L1828.25,850.29 Z M1856,874 a29.5,29.5 0 1 0 59,0 a29.5,29.5 0 1 0 -59,0 Z"/>
<path fill-rule="evenodd" d="M886.79,404.25 L934.21,404.25 L967.75,437.79 L967.75,485.21 L934.21,518.75 L886.79,518.75 L853.25,485.21 L853.25,437.79 Z M881,461.5 a29.5,29.5 0 1 0 59,0 a29.5,29.5 0 1 0 -59,0 Z"/>
<path fill-rule="evenodd" d="M886.79,704.25 L934.21,704.25 L967.75,737.79 L967.75,785.21 L934.21,818.75 L886.79,818.75 L853.25,785.21 L853.25,737.79 Z M881,761.5 a29.5,29.5 0 1 0 59,0 a29.5,29.5 0 1 0 -59,0 Z"/>
<path fill-rule="evenodd" d="M1186.79,554.25 L1234.21,554.25 L1267.75,587.79 L1267.75,635.21 L1234.21,668.75 L1186.79,668.75 L1153.25,635.21 L1153.25,587.79 Z M1181,611.5 a29.5,29.5 0 1 0 59,0 a29.5,29.5 0 1 0 -59,0 Z"/>
<path fill-rule="evenodd" d="M2161.79,404.25 L2209.21,404.25 L2242.75,437.79 L2242.75,485.21 L2209.21,518.75 L2161.79,518.75 L2128.25,485.21 L2128.25,437.79 Z M2156,461.5 a29.5,29.5 0 1 0 59,0 a29.5,29.5 0 1 0 -59,0 Z"/>
<path fill-rule="evenodd" d="M2161.79,554.25 L2209.21,554.25 L2242.75,587.79 L2242.75,635.21 L2209.21,668.75 L2161.79,668.75 L2128.25,635.21 L2128.25,587.79 Z M2156,611.5 a29.5,29.5 0 1 0 59,0 a29.5,29.5 0 1 0 -59,0 Z"/>
<path fill-rule="evenodd" d="M2440.5,380 H2530.5 A44 44 0 0 1 2530.5,468 H2440.5 A44 44 0 0 1 2440.5,380 Z M2456,424 a29.5,29.5 0 1 0 59,0 a29.5,29.5 0 1 0 -59,0 Z"/>
<path fill-rule="evenodd" d="M2461.79,366.75 L2509.21,366.75 L2542.75,400.29 L2542.75,447.71 L2509.21,481.25 L2461.79,481.25 L2428.25,447.71 L2428.25,400.29 Z M2456,424 a29.5,29.5 0 1 0 59,0 a29.5,29.5 0 1 0 -59,0 Z"/>
<path fill-rule="evenodd" d="M2440.5,530 H2530.5 A44 44 0 0 1 2530.5,618 H2440.5 A44 44 0 0 1 2440.5,530 Z M2456,574 a29.5,29.5 0 1 0 59,0 a29.5,29.5 0 1 0 -59,0 Z"/>
<path fill-rule="evenodd" d="M2461.79,516.75 L2509.21,516.75 L2542.75,550.29 L2542.75,597.71 L2509.21,631.25 L2461.79,631.25 L2428.25,597.71 L2428.25,550.29 Z M2456,574 a29.5,29.5 0 1 0 59,0 a29.5,29.5 0 1 0 -59,0 Z"/>
<path fill-rule="evenodd" d="M2440.5,680 H2530.5 A44 44 0 0 1 2530.5,768 H2440.5 A44 44 0 0 1 2440.5,680 Z M2456,724 a29.5,29.5 0 1 0 59,0 a29.5,29.5 0 1 0 -59,0 Z"/>
<path fill-rule="evenodd" d="M2461.79,666.75 L2509.21,666.75 L2542.75,700.29 L2542.75,747.71 L2509.21,781.25 L2461.79,781.25 L2428.25,747.71 L2428.25,700.29 Z M2456,724 a29.5,29.5 0 1 0 59,0 a29.5,29.5 0 1 0 -59,0 Z"/>
<path fill-rule="evenodd" d="M340.1,386.4 a45.5,45.5 0 1 0 91,0 a45.5,45.5 0 1 0 -91,0 Z M356.1,386.4 a29.5,29.5 0 1 0 59,0 a29.5,29.5 0 1 0 -59,0 Z"/>
<path fill-rule="evenodd" d="M340.1,686.4 a45.5,45.5 0 1 0 91,0 a45.5,45.5 0 1 0 -91,0 Z M356.1,686.4 a29.5,29.5 0 1 0 59,0 a29.5,29.5 0 1 0 -59,0 Z"/>
<path fill-rule="evenodd" d="M613.9,681.6 a45.5,45.5 0 1 0 91,0 a45.5,45.5 0 1 0 -91,0 Z M629.9,681.6 a29.5,29.5 0 1 0 59,0 a29.5,29.5 0 1 0 -59,0 Z"/>
<path fill-rule="evenodd" d="M2617.29,66.1 L2727.71,66.1 L2805.8,144.19 L2805.8,254.61 L2727.71,332.7 L2617.29,332.7 L2539.2,254.61 L2539.2,144.19 Z M2570,199.4 a102.5,102.5 0 1 0 205,0 a102.5,102.5 0 1 0 -205,0 Z"/>
<path fill-rule="evenodd" d="M2617.29,815.1 L2727.71,815.1 L2805.8,893.19 L2805.8,1003.61 L2727.71,1081.7 L2617.29,1081.7 L2539.2,1003.61 L2539.2,893.19 Z M2570,948.4 a102.5,102.5 0 1 0 205,0 a102.5,102.5 0 1 0 -205,0 Z"/>
<path fill-rule="evenodd" d="M180.39,778.3 L290.81,778.3 L368.9,856.39 L368.9,966.81 L290.81,1044.9 L180.39,1044.9 L102.3,966.81 L102.3,856.39 Z M133.1,911.6 a102.5,102.5 0 1 0 205,0 a102.5,102.5 0 1 0 -205,0 Z"/>
</g>
<g opacity="0.706" fill="#c8c8c8" stroke="#c8c8c8">
<path d="M11,1136 V1520 M2861,1136 V1520 M11,1383 H2861 M2861,11 H3112 M2861,1136 H3112 M2996,11 V1136" fill="none" stroke-width="8" stroke-linecap="round"/>
<polygon points="13,1383 164,1364 164,1402" stroke-width="8" stroke-linejoin="round"/>
<polygon points="2859,1383 2708,1364 2708,1402" stroke-width="8" stroke-linejoin="round"/>
<polygon points="2996,13 2977,164 3015,164" stroke-width="8" stroke-linejoin="round"/>
<polygon points="2996,1134 2977,983 3015,983" stroke-width="8" stroke-linejoin="round"/>
<text transform="translate(1244.44,1348.79) scale(1.4820,1.5056)" font-family="&quot;Liberation Sans&quot;, sans-serif" font-weight="normal" font-size="100" stroke="none">48.26</text>
<text transform="translate(3028.52,389.93) rotate(90) scale(1.4592,1.5211)" font-family="&quot;Liberation Sans&quot;, sans-serif" font-weight="normal" font-size="100" stroke="none" clip-path="url(#c0)">19.05</text>
</g>
<g opacity="0.706" fill="#ffffff" stroke="#ffffff">
<rect x="11" y="11" width="2850" height="1125" fill="none" stroke-width="18" stroke-linejoin="round"/>
</g>
<g fill="none" stroke="#dcdcdc" stroke-width="1" opacity="0.85">
<path d="M433.5,124 H487.5 M460.5,97 V151"/>
<path d="M1108.5,236.5 H1162.5 M1135.5,209.5 V263.5"/>
<path d="M1933.5,236.5 H1987.5 M1960.5,209.5 V263.5"/>
<path d="M1603.5,649 H1717.5 M1660.5,592 V706"/>
<path d="M2146,536.5 H2225 M2185.5,497 V576"/>
<path d="M2456,574 H2515 M2485.5,544.5 V603.5"/>
<path d="M1000.5,612 H1120.5 M1060.5,552 V672"/>
<path d="M342.5,536.4 H428.5 M385.5,493.4 V579.4"/>
</g>
</svg>
</body></html>
